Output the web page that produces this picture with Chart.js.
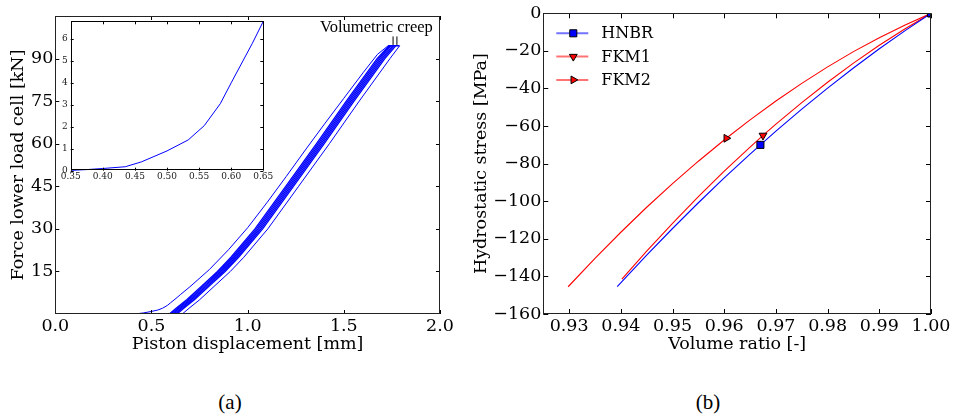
<!DOCTYPE html>
<html>
<head>
<meta charset="utf-8">
<script src="https://cdn.jsdelivr.net/npm/chart.js@4.4.1/dist/chart.umd.min.js"></script>
<style>
  body { margin: 0; background: #fff; width: 955px; height: 414px; position: relative; overflow: hidden; }
  canvas { position: absolute; }
  #leftChart { left: 0; top: 0; }
  #insetChart { left: 50px; top: 10px; }
  #rightChart { left: 460px; top: 0; }
  .cap { position: absolute; font: 21px "Liberation Serif", serif; line-height: 24px; transform: translateX(-50%); }
  #creep { position: absolute; left: 320px; top: 17px; font: 16.5px "Liberation Serif", serif; line-height: 20px; }
</style>
</head>
<body>
<canvas id="leftChart" width="460" height="370"></canvas>
<canvas id="insetChart" width="240" height="185"></canvas>
<canvas id="rightChart" width="495" height="370"></canvas>
<div id="creep">Volumetric creep</div>
<div class="cap" style="left:230px;top:390px">(a)</div>
<div class="cap" style="left:708px;top:390px">(b)</div>
<script>
// ---- (a) piston displacement vs force ----
const dispTicks = [0, 0.5, 1.0, 1.5, 2.0];
const forceTicks = [15, 30, 45, 60, 75, 90];

// first loading
const load1Disp = [0, 0.2, 0.35, 0.40, 0.435, 0.46, 0.50, 0.533, 0.558, 0.583, 0.60, 0.633, 0.65, 0.70, 0.80, 0.90, 1.00, 1.10, 1.20, 1.30, 1.40, 1.50, 1.60, 1.675, 1.73, 1.75];
const load1Force = [0, 0, 0, 0.1, 0.18, 0.4, 0.9, 1.4, 2.05, 3.05, 4.0, 5.8, 6.8, 9.6, 15.6, 22.6, 30.4, 39.2, 48.4, 57.8, 67, 76, 85, 91.5, 94.5, 94.5];

// following cycles, all sampled on the same force levels
const cycleForce = [0, 2, 5, 10, 15, 20, 30, 45, 60, 75, 90, 94.5];
const load2Disp   = [0.593, 0.628, 0.683, 0.763, 0.843, 0.913, 1.038, 1.198, 1.358, 1.513, 1.673, 1.735];
const unload2Disp = [0.601, 0.636, 0.691, 0.771, 0.851, 0.921, 1.046, 1.206, 1.366, 1.521, 1.681, 1.740];
const load3Disp   = [0.609, 0.644, 0.699, 0.779, 0.859, 0.929, 1.054, 1.214, 1.374, 1.529, 1.689, 1.745];
const unload3Disp = [0.617, 0.652, 0.707, 0.787, 0.867, 0.937, 1.062, 1.222, 1.382, 1.537, 1.697, 1.755];
const load4Disp   = [0.625, 0.660, 0.715, 0.795, 0.875, 0.945, 1.070, 1.230, 1.390, 1.545, 1.705, 1.762];
const unload4Disp = [0.633, 0.668, 0.723, 0.803, 0.883, 0.953, 1.078, 1.238, 1.398, 1.553, 1.713, 1.770];
const unload5Disp = [0.660, 0.695, 0.750, 0.830, 0.910, 0.980, 1.105, 1.265, 1.425, 1.580, 1.740, 1.790];

const creepDisp = [1.73, 1.79];
const creepForce = [94.5, 94.5];
const creepMarkDisp = [1.756, 1.776];
const creepMarkForce = [94.8, 97.8];

// inset: zoom on the first loading
const insetDisp = [0.35, 0.40, 0.435, 0.46, 0.50, 0.533, 0.558, 0.583, 0.60, 0.633, 0.65];
const insetForce = [0, 0.1, 0.18, 0.4, 0.9, 1.4, 2.05, 3.05, 4.0, 5.8, 6.8];
const insetTicksX = [0.35, 0.40, 0.45, 0.50, 0.55, 0.60, 0.65];
const insetTicksY = [0, 1, 2, 3, 4, 5, 6];

// ---- (b) volume ratio vs hydrostatic stress ----
const ratioTicks = [0.93, 0.94, 0.95, 0.96, 0.97, 0.98, 0.99, 1.00];
const stressTicks = [-160, -140, -120, -100, -80, -60, -40, -20, 0];
const materials = ['HNBR', 'FKM1', 'FKM2'];

const hnbrRatio  = [1.0, 0.995, 0.99, 0.985, 0.98, 0.975, 0.97, 0.967, 0.965, 0.96, 0.955, 0.95, 0.945, 0.9393];
const hnbrStress = [0, -9.2, -18.9, -29.1, -39.8, -51.0, -62.7, -70, -74.9, -87.6, -100.8, -114.5, -128.7, -145.5];
const fkm1Ratio  = [1.0, 0.995, 0.99, 0.985, 0.98, 0.975, 0.97, 0.9675, 0.965, 0.96, 0.955, 0.95, 0.945, 0.9402];
const fkm1Stress = [0, -8.2, -17.0, -26.5, -36.7, -47.5, -59.0, -65, -71.2, -84.0, -97.6, -111.8, -126.6, -141.5];
const fkm2Ratio  = [1.0, 0.995, 0.99, 0.985, 0.98, 0.975, 0.97, 0.965, 0.9604, 0.955, 0.95, 0.945, 0.94, 0.935, 0.9298];
const fkm2Stress = [0, -6.2, -13.0, -20.4, -28.5, -37.3, -46.7, -56.7, -66.5, -78.7, -90.6, -103.2, -116.5, -130.4, -145.5];
// which points carry a marker
const hnbrMarks = [0, 7];
const fkm1Marks = [0, 7];
const fkm2Marks = [0, 8];

const SERIF = '"DejaVu Serif", serif';
const BLUE = '#0000ff';
const RED = '#ff0000';

function pts(xs, ys) {
  return xs.map((x, i) => ({ x: x, y: ys[i] }));
}

function fmtMinus(v) {
  return v < 0 ? '\u2212' + Math.abs(v) : String(v);
}

// frame round the plot area + ticks pointing inwards on all 4 sides
const frameTicks = {
  id: 'frameTicks',
  beforeDraw(chart, args, opts) {
    if (!opts.fill) return;
    const { ctx, chartArea: a } = chart;
    ctx.save();
    ctx.fillStyle = '#fff';
    ctx.fillRect(a.left, a.top, a.width, a.height);
    ctx.restore();
  },
  afterDraw(chart, args, opts) {
    const { ctx, chartArea: a, scales } = chart;
    const len = opts.len || 5;
    ctx.save();
    ctx.strokeStyle = '#000';
    ctx.lineWidth = 1;
    ctx.beginPath();
    scales.x.ticks.forEach(t => {
      const px = Math.round(scales.x.getPixelForValue(t.value)) + 0.5;
      ctx.moveTo(px, a.bottom); ctx.lineTo(px, a.bottom - len);
      ctx.moveTo(px, a.top); ctx.lineTo(px, a.top + len);
    });
    scales.y.ticks.forEach(t => {
      const py = Math.round(scales.y.getPixelForValue(t.value)) + 0.5;
      ctx.moveTo(a.left, py); ctx.lineTo(a.left + len, py);
      ctx.moveTo(a.right, py); ctx.lineTo(a.right - len, py);
    });
    ctx.stroke();
    ctx.strokeStyle = opts.frame || '#222';
    ctx.strokeRect(Math.round(a.left) + 0.5, Math.round(a.top) + 0.5, Math.round(a.width) - 1, Math.round(a.height) - 1);
    ctx.restore();
  }
};

// legend: line + marker + label, top left inside plot
const lineLegend = {
  id: 'lineLegend',
  afterDraw(chart) {
    const { ctx, chartArea: a } = chart;
    ctx.save();
    chart.data.datasets.forEach((ds, i) => {
      const y = a.top + 20 + i * 23.3;
      ctx.strokeStyle = ds.legendLine;
      ctx.lineWidth = 2;
      ctx.beginPath();
      ctx.moveTo(a.left + 13, y);
      ctx.lineTo(a.left + 45, y);
      ctx.stroke();
      ctx.fillStyle = ds.pointBackgroundColor;
      ctx.strokeStyle = '#000';
      ctx.lineWidth = 1;
      Chart.helpers.drawPoint(ctx, {
        pointStyle: ds.pointStyle, rotation: ds.pointRotation,
        radius: ds.markRadius, borderWidth: 1
      }, a.left + 30, y);
      ctx.fillStyle = '#000';
      ctx.font = '16px ' + SERIF;
      ctx.textBaseline = 'middle';
      ctx.fillText(ds.label, a.left + 58, y + 1);
    });
    ctx.restore();
  }
};

function blueLine(xs, ys, w) {
  return { data: pts(xs, ys), showLine: true, borderColor: BLUE, borderWidth: w || 1, pointRadius: 0, fill: false };
}

function axisFont(size) {
  return { family: SERIF, size: size };
}

const noGrid = { display: false, drawTicks: false };

new Chart(document.getElementById('leftChart'), {
  type: 'scatter',
  data: {
    datasets: [
      blueLine(load1Disp, load1Force),
      blueLine(load2Disp, cycleForce, 1.3),
      blueLine(unload2Disp, cycleForce, 1.3),
      blueLine(load3Disp, cycleForce, 1.3),
      blueLine(unload3Disp, cycleForce, 1.3),
      blueLine(load4Disp, cycleForce, 1.3),
      blueLine(unload4Disp, cycleForce, 1.3),
      blueLine(unload5Disp, cycleForce),
      blueLine(creepDisp, creepForce, 1.5),
      { data: pts([creepMarkDisp[0], creepMarkDisp[0]], creepMarkForce), showLine: true, borderColor: '#000', borderWidth: 1, pointRadius: 0 },
      { data: pts([creepMarkDisp[1], creepMarkDisp[1]], creepMarkForce), showLine: true, borderColor: '#000', borderWidth: 1, pointRadius: 0 }
    ]
  },
  options: {
    responsive: false,
    animation: false,
    events: [],
    layout: { padding: { left: 3.5, top: 16, right: 20, bottom: 11 } },
    plugins: { legend: { display: false }, tooltip: { enabled: false }, frameTicks: { len: 4 } },
    scales: {
      x: {
        type: 'linear', min: 0, max: 2,
        afterBuildTicks: s => { s.ticks = dispTicks.map(v => ({ value: v })); },
        afterFit: s => { s.height = 45; },
        grid: noGrid, border: { display: false },
        ticks: { color: '#000', font: axisFont(17.5), padding: 2, callback: v => v.toFixed(1), maxRotation: 0 },
        title: { display: true, text: 'Piston displacement [mm]', color: '#000', font: axisFont(17.5) }
      },
      y: {
        type: 'linear', min: 0, max: 105,
        afterBuildTicks: s => { s.ticks = forceTicks.map(v => ({ value: v })); },
        afterFit: s => { s.width = 51.8; },
        grid: noGrid, border: { display: false },
        ticks: { color: '#000', font: axisFont(17.5), padding: 2 },
        title: { display: true, text: 'Force lower load cell [kN]', color: '#000', font: axisFont(17.5) }
      }
    }
  },
  plugins: [frameTicks]
});

new Chart(document.getElementById('insetChart'), {
  type: 'scatter',
  data: { datasets: [blueLine(insetDisp, insetForce)] },
  options: {
    responsive: false,
    animation: false,
    events: [],
    layout: { padding: { left: 0, top: 11.3, right: 26.7, bottom: 0 } },
    plugins: { legend: { display: false }, tooltip: { enabled: false }, frameTicks: { len: 3, fill: true, frame: '#000' } },
    scales: {
      x: {
        type: 'linear', min: 0.35, max: 0.65,
        afterBuildTicks: s => { s.ticks = insetTicksX.map(v => ({ value: v })); },
        afterFit: s => { s.height = 24.3; },
        grid: noGrid, border: { display: false },
        ticks: { color: '#222', font: axisFont(9), padding: 1, callback: v => v.toFixed(2), maxRotation: 0 }
      },
      y: {
        type: 'linear', min: 0, max: 6.8,
        afterBuildTicks: s => { s.ticks = insetTicksY.map(v => ({ value: v })); },
        afterFit: s => { s.width = 20.7; },
        grid: noGrid, border: { display: false },
        ticks: { color: '#222', font: axisFont(9), padding: 3 }
      }
    }
  },
  plugins: [frameTicks]
});

function materialLine(label, xs, ys, marks, color, legendLine, style, rotation, radius) {
  return {
    label: label,
    data: pts(xs, ys),
    showLine: true,
    borderColor: color,
    borderWidth: 1.1,
    pointStyle: style,
    pointRotation: rotation,
    markRadius: radius,
    legendLine: legendLine,
    pointBackgroundColor: color,
    pointBorderColor: '#000',
    pointBorderWidth: 1,
    pointRadius: ctx => (marks.includes(ctx.dataIndex) ? radius : 0)
  };
}

new Chart(document.getElementById('rightChart'), {
  type: 'scatter',
  data: {
    datasets: [
      materialLine(materials[0], hnbrRatio, hnbrStress, hnbrMarks, BLUE, 'rgba(0,0,255,0.55)', 'rect', 0, 5),
      materialLine(materials[1], fkm1Ratio, fkm1Stress, fkm1Marks, RED, 'rgba(255,0,0,0.55)', 'triangle', 180, 4.5),
      materialLine(materials[2], fkm2Ratio, fkm2Stress, fkm2Marks, RED, 'rgba(255,0,0,0.55)', 'triangle', 90, 4.5)
    ]
  },
  options: {
    responsive: false,
    animation: false,
    events: [],
    layout: { padding: { left: 6.5, top: 13.3, right: 24, bottom: 11 } },
    plugins: { legend: { display: false }, tooltip: { enabled: false }, frameTicks: { len: 5 } },
    scales: {
      x: {
        type: 'linear', min: 0.925, max: 1.0,
        afterBuildTicks: s => { s.ticks = ratioTicks.map(v => ({ value: v })); },
        afterFit: s => { s.height = 45; },
        grid: noGrid, border: { display: false },
        ticks: { color: '#000', font: axisFont(17.5), padding: 2, callback: v => v.toFixed(2), maxRotation: 0 },
        title: { display: true, text: 'Volume ratio [-]', color: '#000', font: axisFont(17.5) }
      },
      y: {
        type: 'linear', min: -160, max: 0,
        afterBuildTicks: s => { s.ticks = stressTicks.map(v => ({ value: v })); },
        afterFit: s => { s.width = 76.8; },
        grid: noGrid, border: { display: false },
        ticks: { color: '#000', font: axisFont(17.5), padding: 2, callback: v => fmtMinus(v) },
        title: { display: true, text: 'Hydrostatic stress [MPa]', color: '#000', font: axisFont(17.5) }
      }
    }
  },
  plugins: [frameTicks, lineLegend]
});
</script>
</body>
</html>
